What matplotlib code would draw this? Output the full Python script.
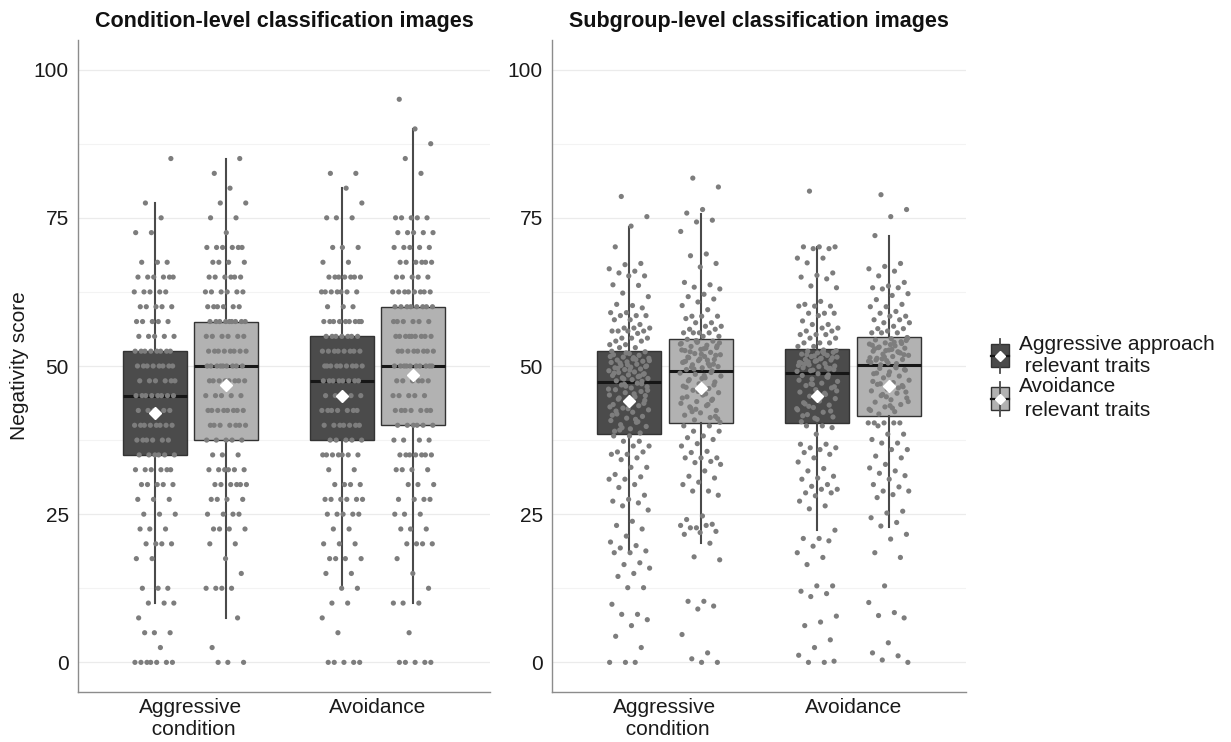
import numpy as np
import matplotlib
matplotlib.use("Agg")
import matplotlib.pyplot as plt
from matplotlib.patches import Rectangle
from matplotlib.lines import Line2D

plt.rcParams['font.family'] = ['Liberation Sans', 'DejaVu Sans']

# ---------------- data ----------------
categories = ['Aggressive\n condition', 'Avoidance']
series_labels = ['Aggressive approach\n relevant traits', 'Avoidance\n relevant traits']
panel_titles = ['Condition-level classification images', 'Subgroup-level classification images']
y_label = 'Negativity score'
y_ticks = [0, 25, 50, 75, 100]
y_minor = [12.5, 37.5, 62.5, 87.5]

# Condition-level: scores take discrete levels 0, 2.5, ..., 95; counts per level
cond_levels = np.arange(0, 95.01, 2.5)
cond_counts_agg_dark = [7,1,3,1,3,3,0,2,4,3,3,3,5,6,6,6,8,5,8,6,8,8,5,5,5,5,6,3,0,2,1,1,0,0,1,0,0,0,0]
cond_counts_agg_light = [3,1,0,1,0,4,1,1,2,4,4,4,6,6,3,5,7,8,5,8,9,8,6,9,6,6,6,4,6,1,2,2,1,1,1,0,0,0,0]
cond_counts_avo_dark = [5,0,1,1,2,2,2,4,3,2,5,6,4,2,7,5,7,7,6,8,9,8,7,9,3,7,7,2,3,0,3,1,1,2,0,0,0,0,0]
cond_counts_avo_light = [5,0,1,0,3,1,1,1,4,3,3,4,3,4,7,4,6,7,5,6,10,8,9,6,8,8,5,6,5,5,5,0,0,1,1,1,1,0,1]

# box statistics: (whisker low, Q1, median, Q3, whisker high, mean)
cond_box_agg_dark = (10.0, 35.0, 45.0, 52.5, 77.5, 42.1)
cond_box_agg_light = (7.5, 37.5, 50.0, 57.5, 85.0, 46.8)
cond_box_avo_dark = (12.5, 37.5, 47.5, 55.0, 80.0, 45.0)
cond_box_avo_light = (10.0, 40.0, 50.0, 60.0, 90.0, 48.4)

sub_box_agg_dark = (18.8, 38.5, 47.3, 52.6, 73.5, 44.1)
sub_box_agg_light = (20.1, 40.3, 49.1, 54.6, 75.7, 46.3)
sub_box_avo_dark = (22.3, 40.3, 48.9, 52.8, 70.0, 44.9)
sub_box_avo_light = (22.9, 41.5, 50.1, 54.9, 71.9, 46.7)

# Subgroup-level scores (continuous)
sub_agg_dark = [
    78.6, 75.2, 73.6, 70.1, 67.3, 67.1, 66.4, 66.0, 65.7, 65.2, 65.2, 63.7, 63.6, 62.3, 61.7,
    60.2, 60.4, 59.8, 59.0, 59.0, 58.5, 58.5, 58.5, 57.8, 57.8, 57.0, 56.4, 56.4, 56.4,
    55.9, 55.9, 55.9, 55.9, 55.5, 54.7, 54.7, 54.7, 54.2, 54.2, 53.6, 53.6, 53.1, 53.1,
    52.4, 52.1, 51.9, 51.8, 51.5, 51.3, 51.2, 51.0, 50.8, 50.7, 50.6, 50.3, 50.1, 50.0,
    49.8, 49.7, 49.5, 49.4, 49.2, 49.0, 48.9, 48.7, 48.5, 48.4, 48.2, 48.0, 47.9, 47.7,
    47.5, 47.4, 52.2, 51.6, 51.1, 50.5, 49.9, 49.3, 48.8, 48.3, 47.8, 50.9, 51.4, 49.6,
    48.6, 50.2, 52.5,
    47.1, 46.8, 46.5, 46.3, 46.0, 45.7, 45.5, 45.1, 44.8, 44.6, 44.2, 43.9, 43.5, 43.3,
    42.9, 42.6, 42.2, 41.9, 41.5, 41.2, 40.8, 40.5, 40.1, 39.8, 39.4, 39.0, 38.7, 46.9,
    46.1, 45.3, 44.4, 43.7, 42.8, 41.7, 40.6, 39.6, 45.9, 44.0, 42.4, 47.0, 46.6, 43.1,
    41.0, 39.2, 45.0,
    38.2, 38.2, 37.3, 37.3, 36.5, 36.5, 35.5, 35.5, 35.1, 35.1, 34.5, 34.2, 32.9, 32.9,
    31.7, 31.3, 30.9, 30.9, 30.0, 29.5, 28.2, 27.5, 27.2, 26.9, 26.4, 25.7, 23.8, 23.1,
    22.5, 21.3, 20.3, 19.7, 19.3, 18.8, 18.5, 18.5, 16.8, 16.5, 15.9, 15.0, 14.5, 12.6,
    12.6, 9.8, 8.1, 8.1, 7.2, 6.2, 4.4, 2.5, 0.0, 0.0, 0.0]
sub_agg_light = [
    81.7, 80.2, 76.4, 75.8, 74.6, 74.3, 72.7, 68.9, 68.6, 67.3, 66.7, 64.1, 63.7, 63.3,
    63.0, 62.1, 61.7, 61.3, 60.8, 60.2, 59.5, 58.4, 58.4, 58.4, 58.0, 57.3, 57.3, 56.7,
    56.7, 56.2, 56.2, 55.6, 55.6, 55.6, 55.6, 55.0, 55.0,
    54.5, 54.2, 54.0, 53.8, 53.5, 53.3, 53.1, 52.8, 52.6, 52.3, 52.1, 51.9, 51.6, 51.4,
    51.1, 50.9, 50.6, 50.4, 50.2, 49.9, 49.7, 49.4, 49.2, 54.3, 53.7, 53.0, 52.4, 51.8,
    51.2, 50.7, 50.0, 49.5, 53.9, 52.9, 51.5, 50.3, 54.1, 52.7, 51.0, 49.8, 53.4, 52.0, 50.8,
    48.9, 48.6, 48.3, 48.0, 47.7, 47.3, 47.0, 46.6, 46.2, 45.9, 45.5, 45.1, 44.8, 44.4,
    44.0, 43.7, 43.3, 42.9, 42.5, 42.1, 41.7, 41.3, 40.9, 40.5, 48.4, 47.5, 46.8, 45.7,
    44.6, 43.5, 42.3, 41.1, 47.9, 46.4, 44.2, 42.7, 48.8, 45.3, 43.1, 41.5, 46.0,
    39.9, 39.9, 39.0, 39.0, 38.2, 37.9, 37.6, 36.9, 36.5, 35.6, 35.4, 34.5, 34.5, 34.5,
    33.9, 33.7, 33.4, 32.3, 31.4, 31.1, 30.4, 30.0, 28.9, 28.9, 28.2, 24.7, 24.1, 23.3,
    22.7, 23.1, 23.1, 22.7, 22.1, 21.9, 21.6, 20.1, 17.8, 17.3, 10.3, 10.3, 9.5, 9.0,
    4.7, 1.6, 0.6, 0.0, 0.0]
sub_avo_dark = [
    79.5, 70.1, 70.1, 70.1, 69.8, 69.8, 68.2, 68.2, 67.4, 65.7, 65.3, 65.0, 64.7, 63.5,
    63.2, 60.9, 60.4, 60.1, 60.1, 60.1, 58.9, 58.9, 58.9, 58.5, 57.6, 57.0, 57.0, 56.4,
    56.4, 55.9, 55.9, 55.3, 55.3, 55.3, 54.7, 54.7, 53.9, 53.9, 53.9, 53.3, 53.3,
    52.7, 52.5, 52.3, 52.2, 52.0, 51.8, 51.6, 51.5, 51.3, 51.1, 51.0, 50.8, 50.6, 50.4,
    50.2, 50.0, 49.9, 49.7, 49.5, 49.3, 49.1, 52.4, 51.9, 51.4, 50.9, 50.5, 49.8, 49.2,
    52.6, 51.2, 50.3, 49.6, 51.7, 50.1, 52.1, 50.7, 49.4,
    48.7, 48.4, 48.1, 47.8, 47.4, 47.1, 46.7, 46.3, 46.0, 45.6, 45.2, 44.9, 44.5, 44.1,
    43.8, 43.4, 43.0, 42.6, 42.2, 41.8, 41.4, 41.0, 40.6, 48.2, 47.0, 45.8, 44.7, 43.6,
    42.4, 41.2, 47.6, 45.4, 43.2, 46.5, 44.3, 41.6, 48.5, 46.9, 42.8,
    39.9, 39.9, 39.6, 38.5, 36.8, 36.8, 36.2, 36.2, 35.9, 35.4, 35.1, 34.5, 33.8, 32.7,
    32.3, 31.4, 31.1, 30.9, 30.0, 29.7, 29.2, 29.2, 28.6, 28.6, 28.1, 27.2, 26.4, 25.9,
    22.3, 20.9, 20.9, 20.5, 19.6, 18.5, 17.7, 16.5, 12.9, 12.9, 12.0, 11.6, 11.1, 7.8,
    6.8, 6.2, 3.8, 2.5, 1.2, 0.0, 0.0, 0.2]
sub_avo_light = [
    78.9, 76.4, 75.2, 72.0, 67.3, 66.8, 66.4, 66.0, 65.2, 64.1, 63.5, 63.2, 63.2, 63.0,
    62.2, 61.9, 61.2, 60.4, 60.0, 60.0, 59.2, 58.9, 58.4, 58.4, 57.8, 57.8, 57.3, 57.3,
    56.7, 56.3, 56.3, 55.9, 55.6, 55.6, 55.6,
    54.8, 54.6, 54.4, 54.1, 53.9, 53.7, 53.4, 53.2, 53.0, 52.7, 52.5, 52.3, 52.0, 51.8,
    51.6, 51.3, 51.1, 50.9, 50.6, 50.4, 50.2, 54.3, 53.6, 52.9, 52.2, 51.5, 50.8, 54.0,
    53.1, 51.9, 50.5, 53.5, 52.4, 51.2, 54.7, 52.8, 51.0, 53.8, 52.6, 51.4,
    49.9, 49.6, 49.3, 49.0, 48.7, 48.3, 48.0, 47.6, 47.2, 46.9, 46.5, 46.1, 45.8, 45.4,
    45.0, 44.6, 44.3, 43.9, 43.5, 43.1, 42.7, 42.3, 41.9, 49.4, 48.5, 47.4, 46.3, 45.2,
    44.0, 42.9, 48.8, 46.7, 44.8, 42.5, 49.7, 47.0, 45.6, 43.3,
    40.4, 40.4, 40.4, 40.4, 40.4, 39.9, 38.5, 38.5, 37.6, 37.0, 37.0, 35.9, 35.9, 34.8,
    34.5, 33.4, 32.8, 32.3, 31.9, 31.5, 30.9, 30.0, 29.6, 28.9, 28.9, 28.3, 27.8, 25.5,
    25.2, 24.4, 23.6, 23.0, 21.6, 20.8, 18.5, 17.7, 12.9, 10.1, 8.4, 7.9, 7.5, 3.3, 1.6,
    1.1, 0.4, 0.0]

# ---------------- style ----------------
W, H = 1231, 742
fill_colors = ['#4b4b4b', '#b2b2b2']
edge_color = '#333333'
point_color = '#7d7d7d'
text_color = '#1a1a1a'
grid_color = '#ebebeb'

fig = plt.figure(figsize=(W / 100, H / 100), dpi=100)
ax_l = fig.add_axes([78 / W, 1 - 692 / H, 412 / W, 652 / H])
ax_r = fig.add_axes([552 / W, 1 - 692 / H, 414 / W, 652 / H])

offsets = [-0.19, 0.19]
box_w = 0.34
jit = 0.11


def jitter(n):
    idx = np.arange(n)
    return ((idx * 0.6180339887 + 0.31) % 1.0 - 0.5) * 2 * jit


def draw_panel(ax, groups, boxes, title):
    for gi in range(2):
        for si in range(2):
            pos = gi + 1 + offsets[si]
            lo, q1, med, q3, hi, mean = boxes[gi][si]
            st = dict(whislo=lo, q1=q1, med=med, q3=q3, whishi=hi, fliers=[])
            ax.bxp([st], positions=[pos], widths=box_w, patch_artist=True,
                   showcaps=False, showfliers=False, manage_ticks=False,
                   boxprops=dict(facecolor=fill_colors[si], edgecolor=edge_color, lw=1.0),
                   whiskerprops=dict(color='#4a4a4a', lw=1.5),
                   medianprops=dict(color='#161616', lw=2.2, solid_capstyle='butt'),
                   zorder=2)
            vals = np.asarray(groups[gi][si], dtype=float)
            xs = pos + jitter(len(vals))
            ax.scatter(xs, vals, s=14, color=point_color, edgecolors='none', zorder=3)
            ax.plot([pos], [mean], marker='D', ms=6.5, color='white', mec='white', zorder=4)

    ax.set_xlim(0.4, 2.6)
    ax.set_ylim(-5, 105)
    ax.set_yticks(y_ticks)
    ax.set_yticks(y_minor, minor=True)
    ax.grid(axis='y', which='major', color=grid_color, lw=0.9, zorder=0)
    ax.grid(axis='y', which='minor', color='#f3f3f3', lw=0.8, zorder=0)
    ax.set_axisbelow(True)
    for s in ['top', 'right']:
        ax.spines[s].set_visible(False)
    for s in ['left', 'bottom']:
        ax.spines[s].set_color('#8c8c8c')
        ax.spines[s].set_linewidth(1.0)
    ax.tick_params(axis='both', which='both', length=0, labelsize=15, labelcolor=text_color)
    ax.tick_params(axis='y', pad=6.5)
    ax.tick_params(axis='x', pad=4)
    ax.set_xticks([1, 2])
    ax.set_xticklabels(categories, linespacing=1.2)
    ax.set_title(title, fontsize=15.5, fontweight='bold', color='#111111', pad=9)


cond_groups = [
    [np.repeat(cond_levels, cond_counts_agg_dark), np.repeat(cond_levels, cond_counts_agg_light)],
    [np.repeat(cond_levels, cond_counts_avo_dark), np.repeat(cond_levels, cond_counts_avo_light)],
]
cond_boxes = [[cond_box_agg_dark, cond_box_agg_light], [cond_box_avo_dark, cond_box_avo_light]]
sub_groups = [[sub_agg_dark, sub_agg_light], [sub_avo_dark, sub_avo_light]]
sub_boxes = [[sub_box_agg_dark, sub_box_agg_light], [sub_box_avo_dark, sub_box_avo_light]]

draw_panel(ax_l, cond_groups, cond_boxes, panel_titles[0])
draw_panel(ax_r, sub_groups, sub_boxes, panel_titles[1])

fig.text(19.5 / W, 1 - 366 / H, y_label, rotation=90, ha='center', va='center',
         fontsize=15, color=text_color)

# ---------------- legend (pixel overlay) ----------------
lax = fig.add_axes([0, 0, 1, 1], zorder=10)
lax.set_xlim(0, W)
lax.set_ylim(H, 0)
lax.axis('off')
key_x = 1000
key_centers = [355.5, 398.5]
for si, cy in enumerate(key_centers):
    lax.add_line(Line2D([key_x, key_x], [cy - 17, cy + 17], color='#4a4a4a', lw=1.3))
    lax.add_patch(Rectangle((key_x - 9, cy - 11.5), 18, 23, facecolor=fill_colors[si],
                            edgecolor=edge_color, lw=1.0))
    lax.add_line(Line2D([key_x - 9, key_x + 9], [cy, cy], color='#161616', lw=1.6))
    lax.plot([key_x], [cy], marker='D', ms=5.5, color='white', mec='white')
    lines = series_labels[si].split('\n')
    for li, line in enumerate(lines):
        lax.text(1019, cy - 6 + li * 23, line, fontsize=15, color=text_color,
                 ha='left', va='baseline')

fig.savefig('out.png', dpi=100)
